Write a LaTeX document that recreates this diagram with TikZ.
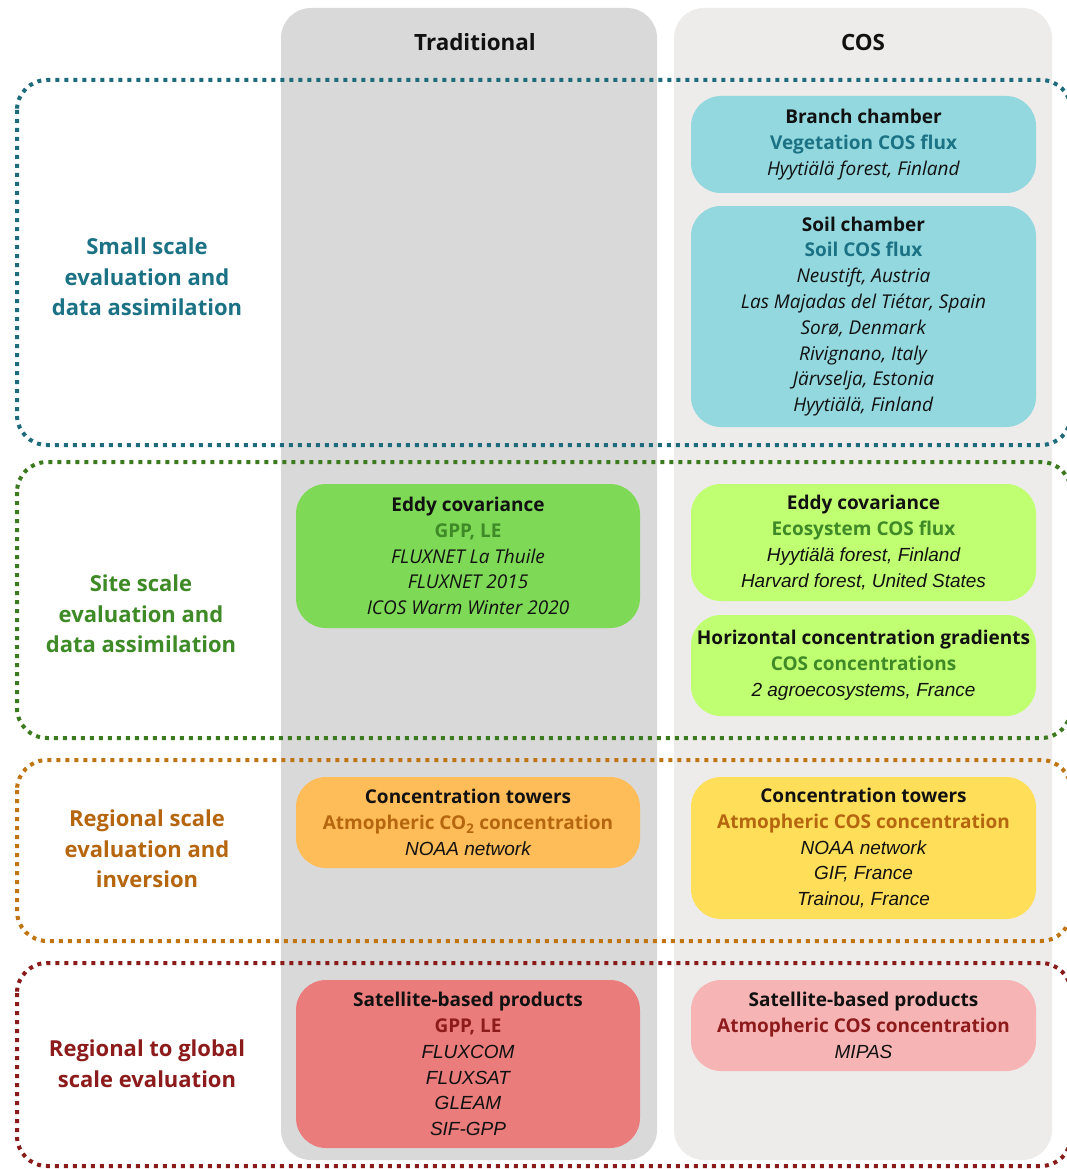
\documentclass[tikz,border=0pt]{standalone}
\usepackage{fontspec}
\setmainfont{Open Sans}
\newfontfamily\arialfont{Liberation Sans}
\definecolor{tradgray}{HTML}{D9D9D9}
\definecolor{cosgray}{HTML}{EDECEA}
\definecolor{tealbox}{HTML}{93D8DE}
\definecolor{tealtxt}{HTML}{1B7285}
\definecolor{tealdot}{HTML}{1E6B7B}
\definecolor{greenT}{HTML}{7ED957}
\definecolor{greenC}{HTML}{C1FF72}
\definecolor{greentxt}{HTML}{3E8A26}
\definecolor{greendot}{HTML}{3C7A1F}
\definecolor{orangeT}{HTML}{FFBD59}
\definecolor{orangeC}{HTML}{FFDE59}
\definecolor{orangetxt}{HTML}{B5660E}
\definecolor{orangedot}{HTML}{C07412}
\definecolor{redT}{HTML}{EA7C7C}
\definecolor{redC}{HTML}{F7B4B4}
\definecolor{redtxt}{HTML}{8E1B1B}
\definecolor{reddot}{HTML}{8A1B1B}
\definecolor{ink}{HTML}{111111}
\newcommand\cardtitle[1]{\textbf{#1}}
\newcommand\cardsub[2]{\textcolor{#1}{\textbf{#2}}}
\newcommand\cardit[1]{\textit{#1}}
\newcommand\cardar[1]{{\arialfont\itshape #1}}
\begin{document}
\begin{tikzpicture}[x=1pt,y=-1pt,
  colbg/.style={rounded corners=30pt},
  zone/.style={line width=4pt, dash pattern=on 4pt off 5pt, rounded corners=30pt},
  card/.style={rounded corners=30pt, inner sep=0pt, align=center, text=ink,
    font=\fontsize{19}{25.8}\selectfont},
  lab/.style={align=center, font=\bfseries\fontsize{22}{30.5}\selectfont},
  head/.style={text=ink, font=\bfseries\fontsize{22.4}{26}\selectfont}]
\useasboundingbox (0,0) rectangle (1067,1169);
\fill[white] (0,0) rectangle (1067,1169);
% columns
\fill[tradgray, colbg] (281,8) rectangle (657,1160);
\fill[cosgray, colbg] (674,8) rectangle (1052,1160);
\node[head] (hT) at (475,42) {Traditional};
\node[head] (hC) at (863,42) {COS};
% zones
\draw[zone, tealdot] (17,80) rectangle (1071,445);
\draw[zone, greendot] (17,462) rectangle (1071,738);
\draw[zone, orangedot] (17,760) rectangle (1071,941);
\draw[zone, reddot] (17,963) rectangle (1071,1166);
% zone labels
\node[lab, text=tealtxt] (l1) at (147,277) {Small scale\\evaluation and\\data assimilation};
\node[lab, text=greentxt] (l2) at (141,614) {Site scale\\evaluation and\\data assimilation};
\node[lab, text=orangetxt] (l3) at (147,849) {Regional scale\\evaluation and\\inversion};
\node[lab, text=redtxt] (l4) at (147,1063.5) {Regional to global\\scale evaluation};
% cards
\node[card, fill=tealbox, minimum width=345pt, minimum height=97pt] (branch) at (863.5,144.5)
  {\cardtitle{Branch chamber}\\\cardsub{tealtxt}{Vegetation COS flux}\\\cardit{Hyytiälä forest, Finland}};
\node[card, fill=tealbox, minimum width=345pt, minimum height=221pt] (soil) at (863.5,316.5)
  {\cardtitle{Soil chamber}\\\cardsub{tealtxt}{Soil COS flux}\\\cardit{Neustift, Austria}\\\cardit{Las Majadas del Tiétar, Spain}\\\cardit{Sorø, Denmark}\\\cardit{Rivignano, Italy}\\\cardit{Järvselja, Estonia}\\\cardit{Hyytiälä, Finland}};
\node[card, fill=greenT, minimum width=344pt, minimum height=144pt] (eddyT) at (468,556)
  {\cardtitle{Eddy covariance}\\\cardsub{greentxt}{GPP, LE}\\\cardit{FLUXNET La Thuile}\\\cardit{FLUXNET 2015}\\\cardit{ICOS Warm Winter 2020}};
\node[card, fill=greenC, minimum width=345pt, minimum height=117pt] (eddyC) at (863.5,542.5)
  {\cardtitle{Eddy covariance}\\\cardsub{greentxt}{Ecosystem COS flux}\\\cardar{Hyytiälä forest, Finland}\\\cardar{Harvard forest, United States}};
\node[card, fill=greenC, minimum width=345pt, minimum height=101pt] (horiz) at (863.5,665.5)
  {\cardtitle{Horizontal concentration gradients}\\\cardsub{greentxt}{COS concentrations}\\\cardar{2 agroecosystems, France}};
\node[card, fill=orangeT, minimum width=344pt, minimum height=91pt] (towT) at (468,822.5)
  {\cardtitle{Concentration towers}\\\cardsub{orangetxt}{Atmopheric CO\textsubscript{2} concentration}\\\cardar{NOAA network}};
\node[card, fill=orangeC, minimum width=345pt, minimum height=142pt] (towC) at (863.5,848)
  {\cardtitle{Concentration towers}\\\cardsub{orangetxt}{Atmopheric COS concentration}\\\cardar{NOAA network}\\\cardar{GIF, France}\\\cardar{Trainou, France}};
\node[card, fill=redT, minimum width=344pt, minimum height=168pt] (satT) at (468,1064)
  {\cardtitle{Satellite-based products}\\\cardsub{redtxt}{GPP, LE}\\\cardar{FLUXCOM}\\\cardar{FLUXSAT}\\\cardar{GLEAM}\\\cardar{SIF-GPP}};
\node[card, fill=redC, minimum width=345pt, minimum height=91pt] (satC) at (863.5,1025.5)
  {\cardtitle{Satellite-based products}\\\cardsub{redtxt}{Atmopheric COS concentration}\\\cardar{MIPAS}};
\end{tikzpicture}
\end{document}
